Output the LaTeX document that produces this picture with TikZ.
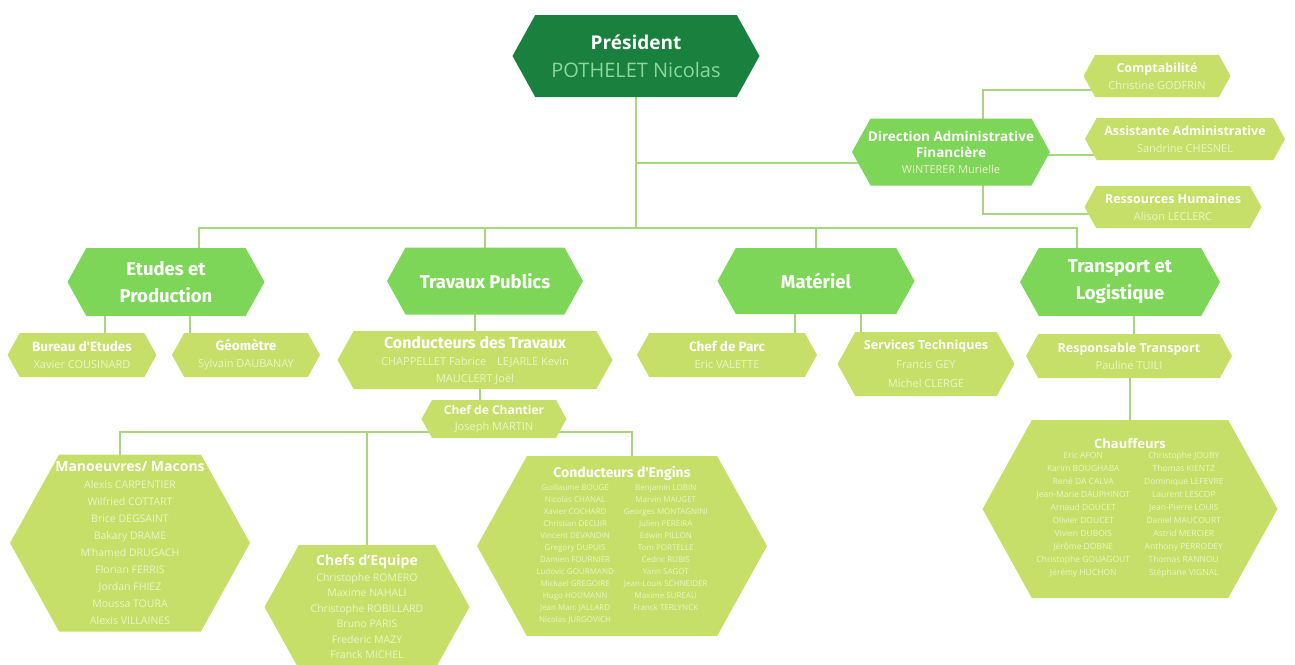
\documentclass[tikz,border=0pt]{standalone}
\usepackage{fontspec}
\setmainfont{Open Sans}
\newfontfamily\fira{Fira Sans}
\usetikzlibrary{shapes.symbols, backgrounds}
\definecolor{bossgreen}{RGB}{26,128,62}
\definecolor{deptgreen}{RGB}{126,214,88}
\definecolor{leafgreen}{RGB}{198,223,104}
\definecolor{linkgreen}{RGB}{168,214,128}
\definecolor{namegreen}{RGB}{236,245,200}
\definecolor{bossname}{RGB}{140,214,160}
\newcommand{\fsz}[2]{\fontsize{#1}{#2}\selectfont}
\newcommand{\ttl}[2]{{\fsz{#1}{#1}\bfseries\color{white}#2}}
\newcommand{\ftl}[2]{{\fira\fsz{#1}{#1}\bfseries\color{white}#2}}
\tikzset{
  hexa/.style={signal, signal to=east and west, signal pointer angle=122, draw=none, inner sep=0pt},
  txt/.style={align=center, text=namegreen, inner sep=0pt}
}
\def\bossnode{\node[hexa, fill=bossgreen]}
\def\deptnode{\node[hexa, fill=deptgreen]}
\def\leafnode{\node[hexa, fill=leafgreen]}
\def\drawlink{\draw[color=linkgreen, line width=1.5pt]}

\begin{document}
\begin{tikzpicture}[x=1pt, y=-1pt]
\useasboundingbox (0,0) rectangle (1295,664);
% direction
\bossnode[minimum width=247pt, minimum height=82pt, label={[txt, font=\fsz{20}{28}, text=bossname]center:{\ttl{19}{Président}\\POTHELET Nicolas}}] (pres) at (636,56) {};
\deptnode[minimum width=198pt, minimum height=67pt, label={[txt, font=\fsz{11}{16}]center:{\ttl{13.5}{Direction Administrative}\\\ttl{13.5}{Financière}\\WINTERER Murielle}}] (daf) at (951,152) {};
\leafnode[minimum width=147pt, minimum height=42pt, label={[txt, font=\fsz{11}{17}]center:{\ttl{12.5}{Comptabilité}\\Christine GODFRIN}}] (compta) at (1157,76) {};
\leafnode[minimum width=200pt, minimum height=42pt, label={[txt, font=\fsz{11}{17}]center:{\ttl{12.5}{Assistante Administrative}\\Sandrine CHESNEL}}] (assist) at (1185,139) {};
\leafnode[minimum width=177pt, minimum height=42pt, label={[txt, font=\fsz{11}{17}]center:{\ttl{12.5}{Ressources Humaines}\\Alison LECLERC}}] (rh) at (1173,207) {};
% services
\deptnode[minimum width=197pt, minimum height=68pt, label={[txt, font=\fira\bfseries\fsz{18.5}{27}, text=white]center:{Etudes et\\Production}}] (etudes) at (166,282) {};
\deptnode[minimum width=196pt, minimum height=67pt, label={[txt, font=\fira\bfseries\fsz{18.5}{27}, text=white]center:{Travaux Publics}}] (tp) at (485,281) {};
\deptnode[minimum width=197pt, minimum height=66pt, label={[txt, font=\fira\bfseries\fsz{18.5}{27}, text=white]center:{Matériel}}] (mat) at (816,281) {};
\deptnode[minimum width=200pt, minimum height=68pt, label={[txt, font=\fira\bfseries\fsz{18.5}{27}, text=white]center:{Transport et\\Logistique}}] (transp) at (1120,282) {};
% teams
\leafnode[minimum width=149pt, minimum height=44pt, label={[txt, font=\fsz{11}{17}]center:{\ftl{13.5}{Bureau d'Etudes}\\Xavier COUSINARD}}] (bureau) at (82,355) {};
\leafnode[minimum width=148pt, minimum height=44pt, label={[txt, font=\fsz{11}{17}]center:{\ftl{13.5}{Géomètre}\\Sylvain DAUBANAY}}] (geom) at (246,355) {};
\leafnode[minimum width=275pt, minimum height=58pt, label={[txt, font=\fsz{11}{17}]center:{\ftl{16}{Conducteurs des Travaux}\\CHAPPELLET Fabrice\quad LEJARLE Kevin\\MAUCLERT Joël}}] (condtrav) at (475,360) {};
\leafnode[minimum width=145pt, minimum height=38pt, label={[txt, font=\fsz{11}{16}]center:{\ttl{12}{Chef de Chantier}\\Joseph MARTIN}}] (chefchant) at (494,419) {};
\leafnode[minimum width=180pt, minimum height=44pt, label={[txt, font=\fsz{11}{17}]center:{\ftl{13.5}{Chef de Parc}\\Eric VALETTE}}] (chefparc) at (727,355) {};
\leafnode[minimum width=177pt, minimum height=64pt, label={[txt, font=\fsz{11}{19}]center:{\ttl{12.5}{Services Techniques}\\Francis GEY\\Michel CLERGE}}] (servtech) at (926,364) {};
\leafnode[minimum width=206pt, minimum height=44pt, label={[txt, font=\fsz{11}{17}]center:{\ttl{12.5}{Responsable Transport}\\Pauline TUILI}}] (resptrans) at (1129,356) {};
% staff
\leafnode[minimum width=240pt, minimum height=177pt, label={[txt, font=\fsz{10.5}{17}]center:{\ttl{14}{Manoeuvres/ Macons}\\Alexis CARPENTIER\\Wilfried COTTART\\Brice DEGSAINT\\Bakary DRAME\\M'hamed DRUGACH\\Florian FERRIS\\Jordan FHIEZ\\Moussa TOURA\\Alexis VILLAINES}}] (manoeuvres) at (130,543) {};
\leafnode[minimum width=205pt, minimum height=124pt, label={[txt, font=\fsz{10.5}{15.5}]center:{\ttl{14}{Chefs d'Equipe}\\Christophe ROMERO\\Maxime NAHALI\\Christophe ROBILLARD\\Bruno PARIS\\Frederic MAZY\\Franck MICHEL}}] (chefseq) at (367,607) {};
\leafnode[minimum width=290pt, minimum height=180pt, label={[txt, font=\fsz{8}{12}]center:{\ftl{14}{Conducteurs d'Engins}\\
  \begin{tabular}{@{}c@{\hspace{10pt}}c@{}}
  Guillaume BOUGE & Benjamin LOBIN\\
  Nicolas CHANAL & Marvin MAUGET\\
  Xavier COCHARD & Georges MONTAGNINI\\
  Christian DECUIR & Julien PEREIRA\\
  Vincent DEVANDIN & Edwin PILLON\\
  Gregory DUPUIS & Tom PORTELLE\\
  Damien FOURNIER & Cedric RUBIS\\
  Ludovic GOURMAND & Yann SAGOT\\
  Mickael GREGOIRE & Jean-Louis SCHNEIDER\\
  Hugo HOUMANN & Maxime SUREAU\\
  Jean Marc JALLARD & Franck TERLYNCK\\
  Nicolas JURGOVICH &
  \end{tabular}}}] (condengins) at (622,546) {};
\leafnode[minimum width=295pt, minimum height=178pt, label={[txt, font=\fsz{8.5}{13}]center:{\ttl{13}{Chauffeurs}\\
  \begin{tabular}{@{}c@{\hspace{14pt}}c@{}}
  Eric AFON & Christophe JOUBY\\
  Karim BOUGHABA & Thomas KIENTZ\\
  René DA CALVA & Dominique LEFEVRE\\
  Jean-Marie DAUPHINOT & Laurent LESCOP\\
  Arnaud DOUCET & Jean-Pierre LOUIS\\
  Olivier DOUCET & Daniel MAUCOURT\\
  Vivien DUBOIS & Astrid MERCIER\\
  Jérôme DOBNE & Anthony PERRODEY\\
  Christophe GOUAGOUT & Thomas RANNOU\\
  Jérémy HUCHON & Stéphane VIGNAL
  \end{tabular}}}] (chauffeurs) at (1130,509) {};
% links
\begin{pgfonlayer}{background}
\coordinate (bus) at (636,228);
\drawlink (pres.center) -- (bus);
\drawlink ([yshift=-11pt]daf.center) -| (pres.center);
\drawlink ([xshift=32pt]daf.center) |- ([yshift=-14pt]compta.center);
\drawlink ([yshift=-3pt]daf.center) -- ([yshift=-3pt]daf.center -| assist.center);
\drawlink ([xshift=32pt]daf.center) |- ([yshift=-7pt]rh.center);
\drawlink ([xshift=33pt]etudes.center) |- (bus);
\drawlink (tp.center) |- (bus);
\drawlink (mat.center) |- (bus);
\drawlink ([xshift=-43pt]transp.center) |- (bus);
\drawlink ([xshift=23pt]bureau.center) -- ([xshift=23pt]bureau.center |- etudes.center);
\drawlink ([xshift=-56pt]geom.center) -- ([xshift=-56pt]geom.center |- etudes.center);
\drawlink (condtrav.center) -- (condtrav.center |- tp.center);
\drawlink ([xshift=-14pt]chefchant.center) -- ([xshift=-14pt]chefchant.center |- condtrav.center);
\drawlink ([xshift=-10pt]manoeuvres.center) |- ([yshift=-13pt]chefchant.center);
\drawlink (chefseq.center) |- ([yshift=-13pt]chefchant.center);
\drawlink ([xshift=10pt]condengins.center) |- ([yshift=-13pt]chefchant.center);
\drawlink ([xshift=68pt]chefparc.center) -- ([xshift=68pt]chefparc.center |- mat.center);
\drawlink ([xshift=-65pt]servtech.center) -- ([xshift=-65pt]servtech.center |- mat.center);
\drawlink ([xshift=5pt]resptrans.center) -- ([xshift=5pt]resptrans.center |- transp.center);
\drawlink (chauffeurs.center) -- (chauffeurs.center |- resptrans.center);
\end{pgfonlayer}
\end{tikzpicture}
\end{document}
